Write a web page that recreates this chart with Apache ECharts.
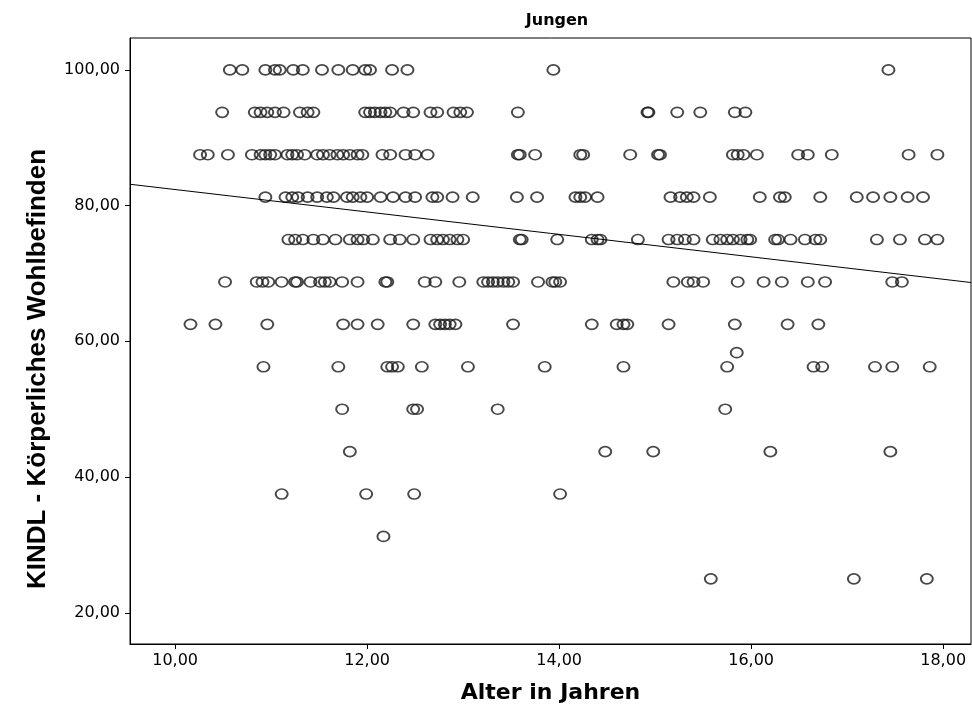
<!DOCTYPE html>
<html>
<head>
<meta charset="utf-8">
<title>Jungen</title>
<script src="https://cdn.jsdelivr.net/npm/echarts@6/dist/echarts.min.js"></script>
<style>
    html, body { margin: 0; padding: 0; background: #fff; }
    #main { width: 972px; height: 709px; }
</style>
</head>
<body>
<div id="main"></div>
<script>
    // Alter (Jahre) je KINDL-Stufe
    var ages_100   = [10.57, 10.70, 10.94, 11.04, 11.09, 11.23, 11.33, 11.53, 11.70, 11.85, 11.98, 12.03, 12.26, 12.42, 13.94, 17.43];
    var ages_9375  = [10.49, 10.83, 10.89, 10.96, 11.04, 11.13, 11.30, 11.38, 11.44, 11.98, 12.03, 12.08, 12.14, 12.19, 12.24,
                      12.38, 12.48, 12.66, 12.73, 12.90, 12.97, 13.04, 13.57, 14.92, 14.93, 15.23, 15.47, 15.83, 15.94];
    var ages_875   = [10.26, 10.34, 10.55, 10.80, 10.89, 10.94, 10.99, 11.04, 11.17, 11.22, 11.27, 11.35, 11.48, 11.54, 11.61,
                      11.69, 11.75, 11.82, 11.90, 11.95, 12.16, 12.24, 12.40, 12.50, 12.63, 13.57, 13.59, 13.75, 14.22, 14.25,
                      14.74, 15.03, 15.05, 15.81, 15.86, 15.92, 16.06, 16.49, 16.59, 16.84, 17.64, 17.94];
    var ages_8125  = [10.94, 11.15, 11.22, 11.28, 11.38, 11.48, 11.58, 11.65, 11.79, 11.85, 11.93, 12.00, 12.14, 12.27, 12.40,
                      12.50, 12.68, 12.73, 12.89, 13.10, 13.56, 13.77, 14.17, 14.22, 14.27, 14.40, 15.16, 15.26, 15.33, 15.40,
                      15.57, 16.09, 16.30, 16.35, 16.72, 17.10, 17.27, 17.45, 17.63, 17.79];
    var ages_75    = [11.18, 11.25, 11.33, 11.44, 11.54, 11.67, 11.82, 11.90, 11.96, 12.06, 12.24, 12.34, 12.48, 12.66, 12.73,
                      12.79, 12.86, 12.94, 13.00, 13.59, 13.61, 13.98, 14.34, 14.40, 14.43, 14.82, 15.14, 15.23, 15.31, 15.40,
                      15.60, 15.68, 15.75, 15.81, 15.89, 15.96, 15.99, 16.25, 16.28, 16.41, 16.56, 16.67, 16.72, 17.31, 17.55,
                      17.81, 17.94];
    var ages_6875  = [10.52, 10.85, 10.91, 10.97, 11.11, 11.25, 11.27, 11.41, 11.51, 11.56, 11.61, 11.74, 11.90, 12.19, 12.21,
                      12.60, 12.71, 12.96, 13.21, 13.26, 13.31, 13.36, 13.42, 13.47, 13.52, 13.78, 13.93, 13.96, 14.01, 15.19,
                      15.34, 15.40, 15.50, 15.86, 16.13, 16.32, 16.59, 16.77, 17.47, 17.57];
    var ages_625   = [10.16, 10.42, 10.96, 11.75, 11.90, 12.11, 12.48, 12.71, 12.76, 12.81, 12.86, 12.92, 13.52, 14.34, 14.60,
                      14.67, 14.71, 15.14, 15.83, 16.38, 16.70];
    var ages_5833  = [15.85];
    var ages_5625  = [10.92, 11.70, 12.21, 12.26, 12.32, 12.57, 13.05, 13.85, 14.67, 15.75, 16.65, 16.74, 17.29, 17.47, 17.86];
    var ages_50    = [11.74, 12.48, 12.52, 13.36, 15.73];
    var ages_4375  = [11.82, 14.48, 14.98, 16.20, 17.45];
    var ages_375   = [11.11, 11.99, 12.49, 14.01];
    var ages_3125  = [12.17];
    var ages_25    = [15.58, 17.07, 17.83];

    var levels = [
        [100, ages_100], [93.75, ages_9375], [87.5, ages_875], [81.25, ages_8125], [75, ages_75],
        [68.75, ages_6875], [62.5, ages_625], [58.33, ages_5833], [56.25, ages_5625], [50, ages_50],
        [43.75, ages_4375], [37.5, ages_375], [31.25, ages_3125], [25, ages_25]
    ];

    // Achsen
    var xTicks = [10, 12, 14, 16, 18];
    var yTicks = [20, 40, 60, 80, 100];
    var xRange = [9.53, 18.29];
    var yRange = [15.4, 104.7];

    // lineare Anpassung
    var fitIntercept = 98.9;
    var fitSlope = -1.653;

    var points = [];
    levels.forEach(function (lv) {
        lv[1].forEach(function (a) { points.push([a, lv[0]]); });
    });

    var fitLine = [
        [xRange[0], fitIntercept + fitSlope * xRange[0]],
        [xRange[1], fitIntercept + fitSlope * xRange[1]]
    ];

    function komma(v) { return v.toFixed(2).replace('.', ','); }

    var myChart = echarts.init(document.getElementById('main'), null, {renderer: 'canvas'});
    var wide = 'DejaVu Sans, Verdana, sans-serif';
    var font = 'Liberation Sans, Arial, sans-serif';

    var option = {
        backgroundColor: '#fff',
        animation: false,
        title: {
            text: 'Jungen',
            left: 552,
            top: 8,
            textAlign: 'center',
            textStyle: {fontFamily: wide, fontSize: 16, fontWeight: 'bold', color: '#000'}
        },
        // Y-Achsentitel (wie im SPSS-Original leicht nach unten versetzt)
        graphic: [{
            type: 'text',
            x: 38,
            y: 369,
            rotation: Math.PI / 2,
            style: {
                text: 'KINDL - Körperliches Wohlbefinden',
                font: 'bold 26px Liberation Sans, Arial, sans-serif',
                fill: '#000',
                align: 'center',
                verticalAlign: 'middle'
            }
        }],
        grid: {
            left: 130, right: 1, top: 38, bottom: 64,
            show: true, borderColor: '#000', borderWidth: 1, backgroundColor: 'transparent'
        },
        xAxis: {
            type: 'value',
            min: xRange[0], max: xRange[1],
            name: 'Alter in Jahren',
            nameLocation: 'middle',
            nameGap: 38,
            nameTextStyle: {fontFamily: wide, fontSize: 22, fontWeight: 'bold', color: '#000'},
            axisLine: {show: true, lineStyle: {color: '#000', width: 1}},
            axisTick: {show: true, length: 5, customValues: xTicks, lineStyle: {color: '#000'}},
            axisLabel: {customValues: xTicks, formatter: komma, margin: 9,
                fontFamily: wide, fontSize: 16, color: '#000'},
            splitLine: {show: false}
        },
        yAxis: {
            type: 'value',
            min: yRange[0], max: yRange[1],
            axisLine: {show: true, lineStyle: {color: '#000', width: 1}},
            axisTick: {show: true, length: 5, customValues: yTicks, lineStyle: {color: '#000'}},
            axisLabel: {customValues: yTicks, formatter: komma, margin: 10,
                fontFamily: wide, fontSize: 16, color: '#000'},
            splitLine: {show: false}
        },
        series: [
            {
                type: 'scatter',
                data: points,
                symbol: 'circle',
                symbolSize: [12, 10],
                itemStyle: {color: 'rgba(0,0,0,0)', borderColor: '#1a1a1a', borderWidth: 1.8},
                z: 2
            },
            {
                type: 'line',
                data: fitLine,
                symbol: 'none',
                lineStyle: {color: '#000', width: 1},
                z: 3
            }
        ]
    };
    myChart.setOption(option);
</script>
</body>
</html>
